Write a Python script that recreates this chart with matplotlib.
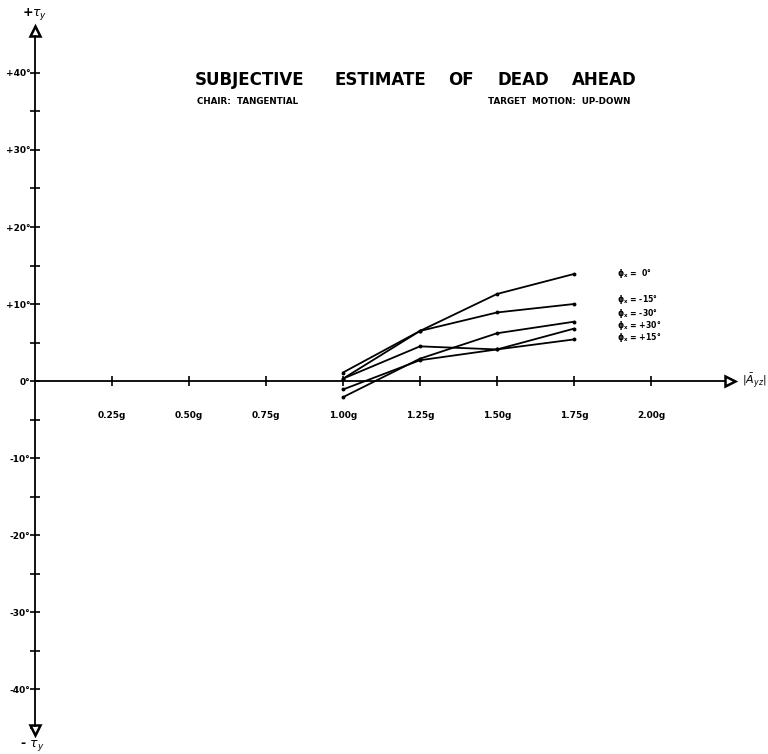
import matplotlib
matplotlib.use("Agg")
import matplotlib.pyplot as plt
from matplotlib.ticker import FixedLocator

# ---- data ----
accel_g = [1.00, 1.25, 1.50, 1.75]
series_labels = [r"$\mathbf{\phi_x}$ =  0°", r"$\mathbf{\phi_x}$ = -15°", r"$\mathbf{\phi_x}$ = -30°",
                 r"$\mathbf{\phi_x}$ = +30°", r"$\mathbf{\phi_x}$ = +15°"]
phi_0 = [1.1, 6.5, 11.3, 13.9]
phi_m15 = [0.3, 6.5, 8.9, 10.0]
phi_m30 = [-2.1, 2.9, 6.2, 7.7]
phi_p30 = [0.3, 4.5, 4.1, 6.8]
phi_p15 = [-1.1, 2.7, 4.1, 5.4]
series = [phi_0, phi_m15, phi_m30, phi_p30, phi_p15]
label_y = [14.0, 10.6, 8.8, 7.2, 5.6]

x_ticks = [0.25, 0.50, 0.75, 1.00, 1.25, 1.50, 1.75, 2.00]
x_ticklabels = ["0.25g", "0.50g", "0.75g", "1.00g", "1.25g", "1.50g", "1.75g", "2.00g"]
y_ticks = [-40, -30, -20, -10, 0, 10, 20, 30, 40]
y_ticklabels = ["-40°", "-30°", "-20°", "-10°", "0°", "+10°", "+20°", "+30°", "+40°"]

title_words = ["SUBJECTIVE", "ESTIMATE", "OF", "DEAD", "AHEAD"]
title_x = [0.254, 0.436, 0.583, 0.648, 0.745]

plt.rcParams['font.family'] = ['DejaVu Sans']

fig = plt.figure(figsize=(7.68, 7.54), dpi=100)
ax = fig.add_axes([0, 0, 1, 1])
ax.set_xlim(-0.1136, 2.3799)
ax.set_ylim(-48.44, 49.48)

for s in ['top', 'right']:
    ax.spines[s].set_visible(False)
ax.spines['left'].set_position(('data', 0))
ax.spines['bottom'].set_position(('data', 0))
ax.spines['left'].set_bounds(-44.8, 44.8)
ax.spines['bottom'].set_bounds(0, 2.24)
ax.spines['left'].set_linewidth(1.3)
ax.spines['bottom'].set_linewidth(1.3)

ax.xaxis.set_major_locator(FixedLocator(x_ticks))
ax.set_xticklabels(x_ticklabels)
ax.yaxis.set_major_locator(FixedLocator(y_ticks))
ax.set_yticklabels(y_ticklabels)
ax.yaxis.set_minor_locator(FixedLocator([-45, -35, -25, -15, -5, 5, 15, 25, 35]))
ax.tick_params(axis='x', direction='inout', length=7, width=1.2, pad=18, labelsize=6.5)
ax.tick_params(axis='y', which='major', direction='inout', length=7, width=1.2, pad=0, labelsize=6.5)
ax.tick_params(axis='y', which='minor', direction='inout', length=7, width=1.2)
for lab in ax.get_xticklabels() + ax.get_yticklabels():
    lab.set_fontweight('bold')

# arrow heads
ax.plot([0], [45.5], marker='^', ms=7, mfc='white', mec='black', mew=1.8, clip_on=False)
ax.plot([0], [-45.3], marker='v', ms=7, mfc='white', mec='black', mew=1.8, clip_on=False)
ax.plot([2.255], [0], marker='>', ms=7, mfc='white', mec='black', mew=1.8, clip_on=False)

ax.text(0.0, 47.6, r"+$\tau_y$", ha='center', va='center', fontsize=9, fontweight='bold')
ax.text(-0.01, -47.4, r"- $\tau_y$", ha='center', va='center', fontsize=9, fontweight='bold')
ax.text(2.295, 0, r"$|\bar{A}_{yz}|$", ha='left', va='center', fontsize=8, fontweight='bold')

for vals in series:
    ax.plot(accel_g, vals, color='black', lw=1.3, marker='o', ms=1.8)

for lab, yy in zip(series_labels, label_y):
    ax.text(1.89, yy, lab, ha='left', va='center', fontsize=5.6, fontweight='bold')

for w, xx in zip(title_words, title_x):
    fig.text(xx, 0.894, w, ha='left', va='center', fontsize=12, fontweight='bold')
fig.text(0.2565, 0.865, "CHAIR:  TANGENTIAL", ha='left', va='center', fontsize=6.3, fontweight='bold')
fig.text(0.635, 0.865, "TARGET  MOTION:  UP-DOWN", ha='left', va='center', fontsize=6.3, fontweight='bold')

fig.savefig("out.png", dpi=100)
